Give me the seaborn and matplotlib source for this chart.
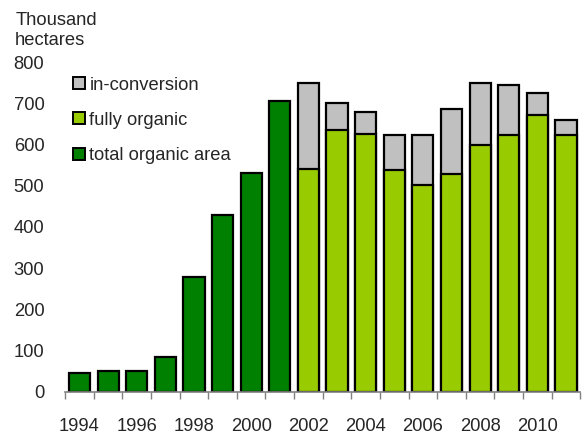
import matplotlib
matplotlib.use("Agg")
import matplotlib.pyplot as plt
import seaborn as sns
import pandas as pd
import numpy as np
from matplotlib.lines import Line2D

years = list(range(1994, 2012))
total_years = list(range(1994, 2002))
total_area = [46, 49, 51, 83, 278, 430, 531, 705]
split_years = list(range(2002, 2012))
fully_organic = [541, 634, 626, 538, 501, 528, 599, 624, 672, 624]
split_total = [748, 701, 680, 624, 624, 687, 749, 745, 724, 660]

dark_green = "#008000"
light_green = "#99CC00"
grey = "#C0C0C0"


def main():
    sns.set_style("white")
    plt.rcParams['font.family'] = ['Liberation Sans', 'DejaVu Sans']
    font_size = 13.2

    order = [str(y) for y in years]
    df_total = pd.DataFrame({'year': [str(y) for y in total_years], 'value': total_area})
    df_split = pd.DataFrame({'year': [str(y) for y in split_years],
                             'fully': fully_organic, 'total': split_total})

    fig = plt.figure(figsize=(5.82, 4.34), dpi=100)
    ax = fig.add_axes([0.112, 0.0975, 0.885, 0.7595])

    bar_kw = dict(order=order, width=0.74, edgecolor='black', linewidth=1.6,
                  saturation=1, errorbar=None, ax=ax)
    sns.barplot(data=df_total, x='year', y='value', color=dark_green, **bar_kw)
    sns.barplot(data=df_split, x='year', y='total', color=grey, **bar_kw)
    sns.barplot(data=df_split, x='year', y='fully', color=light_green, **bar_kw)

    ax.set_xlim(-0.5, len(years) - 0.5)
    ax.set_ylim(0, 800)
    ax.set_yticks(np.arange(0, 801, 100))
    ax.set_xlabel('')
    ax.set_ylabel('')

    ax.set_xticks(range(0, len(years), 2))
    ax.set_xticklabels([str(y) for y in years[::2]], fontsize=font_size)
    ax.set_xticks(np.arange(-0.5, len(years), 1), minor=True)
    ax.tick_params(axis='x', which='major', length=0, pad=19)
    ax.tick_params(axis='x', which='minor', length=5, color='#808080', width=1, bottom=True)
    ax.tick_params(axis='y', length=0, pad=15, labelsize=font_size)

    for side in ['top', 'right', 'left']:
        ax.spines[side].set_visible(False)
    ax.spines['bottom'].set_color('#808080')
    ax.spines['bottom'].set_linewidth(1.2)

    fig.text(0.026, 0.972, 'Thousand\nhectares', fontsize=font_size, va='top', ha='left',
             linespacing=1.2)

    handles = [Line2D([], [], marker='s', linestyle='', markersize=8, markerfacecolor=c,
                      markeredgecolor='black', markeredgewidth=1.4)
               for c in [grey, light_green, dark_green]]
    ax.legend(handles, ['in-conversion', 'fully organic', 'total organic area'],
              loc='upper left', bbox_to_anchor=(-0.008, 0.995), frameon=False,
              fontsize=font_size, handlelength=0.6, handletextpad=0.25,
              labelspacing=1.0, borderaxespad=0.3)

    fig.savefig('out.png', dpi=100)


if __name__ == '__main__':
    main()
